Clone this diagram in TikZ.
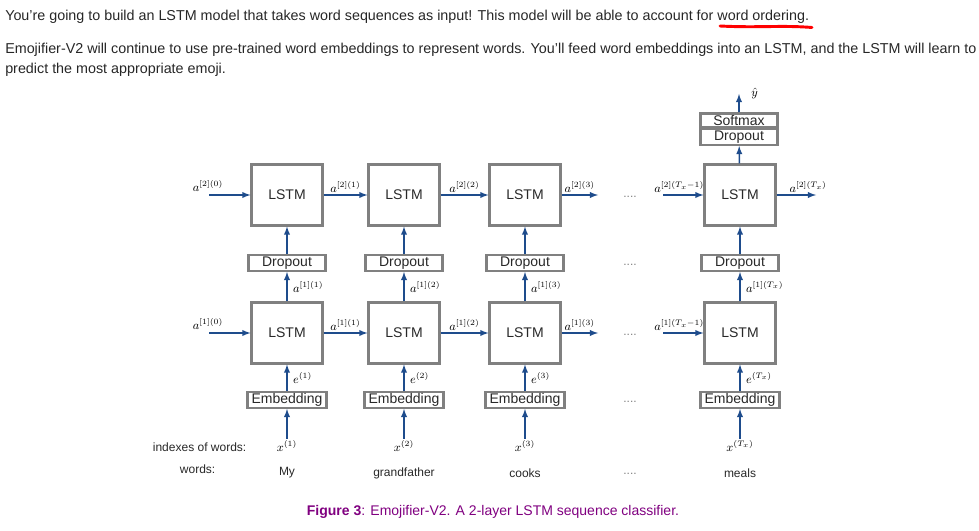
\documentclass[tikz,border=0pt]{standalone}
\usepackage{fontspec}
\setmainfont{Liberation Sans}
\usetikzlibrary{positioning,calc}
\definecolor{boxgray}{RGB}{128,128,128}
\definecolor{arrowblue}{RGB}{30,76,140}
\definecolor{capviolet}{RGB}{128,0,128}
\definecolor{textgray}{RGB}{40,40,40}
\tikzset{lstm/.style={draw=boxgray,line width=1.8pt,minimum width=53pt,minimum height=45.5pt,inner sep=0pt,text=textgray,font=\fontsize{10.5}{12}\selectfont},
         layer/.style={draw=boxgray,line width=1.8pt,minimum width=57.5pt,minimum height=11.7pt,inner sep=0pt,text=textgray,font=\fontsize{10.5}{12}\selectfont},
         vec/.style={inner sep=1pt,text=black,font=\fontsize{9}{11}\selectfont},
         word/.style={text=textgray,font=\fontsize{9}{11}\selectfont},
         dots/.style={text=gray,font=\fontsize{9}{11}\selectfont},
         para/.style={anchor=west,inner sep=0pt,text=black!85,font=\fontsize{10.75}{13}\selectfont}
}
\tikzstyle{arrow} = [arrowblue,line width=1.1pt,-latex]

\begin{document}
\begin{tikzpicture}[x=0.75pt,y=-0.75pt]
\useasboundingbox (0,0) rectangle (979,531);

% text above the figure
\node[para] (intro) at (5,17) {You're going to build an LSTM model that takes word sequences as input! This model will be able to account for word ordering.};
\node[para] (para1) at (5,50) {Emojifier-V2 will continue to use pre-trained word embeddings to represent words. You'll feed word embeddings into an LSTM, and the LSTM will learn to};
\node[para] (para2) at (5,70) {predict the most appropriate emoji.};
\draw[red,line width=2.2pt,line cap=round] (720,26) .. controls (760,28) and (780,25) .. (812,27.5);

% second LSTM layer
\node[lstm] (top1) at (287,195) {LSTM};
\node[lstm] (top2) at (404,195) {LSTM};
\node[lstm] (top3) at (525,195) {LSTM};
\node[lstm] (top4) at (740,195) {LSTM};

% dropout between the layers
\node[layer] (drop1) at (287,263) {Dropout};
\node[layer] (drop2) at (404,263) {Dropout};
\node[layer] (drop3) at (525,263) {Dropout};
\node[layer] (drop4) at (740,263) {Dropout};

% first LSTM layer
\node[lstm] (bot1) at (287,333) {LSTM};
\node[lstm] (bot2) at (404,333) {LSTM};
\node[lstm] (bot3) at (525,333) {LSTM};
\node[lstm] (bot4) at (740,333) {LSTM};

% embeddings
\node[layer,minimum width=59pt] (emb1) at (287,400) {Embedding};
\node[layer,minimum width=59pt] (emb2) at (404,400) {Embedding};
\node[layer,minimum width=59pt] (emb3) at (525,400) {Embedding};
\node[layer,minimum width=59pt] (emb4) at (740,400) {Embedding};

% inputs
\node[vec] (x1) at (287,446) {$x^{(1)}$};
\node[vec] (x2) at (404,446) {$x^{(2)}$};
\node[vec] (x3) at (525,446) {$x^{(3)}$};
\node[vec] (x4) at (740,446) {$x^{(T_x)}$};
\node[word] (w1) at (287,473) {My};
\node[word] (w2) at (404,473) {grandfather};
\node[word] (w3) at (525,473) {cooks};
\node[word] (w4) at (740,473) {meals};
\node[word,anchor=east] (idxrow) at (251,447) {indexes of words:};
\node[word,anchor=east] (wordrow) at (220,469) {words:};

% output stack
\node[layer,minimum width=58pt] (drop5) at (739,137) {Dropout};
\node[layer,minimum width=58pt,minimum height=10pt,above=0pt of drop5] (softmax) {Softmax};
\coordinate (yout) at (739,94);
\node[vec,right=8pt of yout] (yhat) {$\hat{y}$};

% dots
\node[dots] (dots1) at (630,197) {....};
\node[dots] (dots2) at (630,265) {....};
\node[dots] (dots3) at (630,335) {....};
\node[dots] (dots4) at (630,402) {....};
\node[dots] (dots5) at (630,474) {....};

% free ends of the recurrent arrows
\coordinate (in2) at (209,195);
\coordinate (in1) at (209,333);
\coordinate (out2) at (598,195);
\coordinate (out1) at (598,333);
\coordinate (back2) at (663,195);
\coordinate (back1) at (663,333);
\coordinate (last2) at (816,195);
\node[vec] (a20) at (208,186) {$a^{[2](0)}$};
\node[vec] (a10) at (208,324) {$a^{[1](0)}$};

% vertical arrows
\draw[arrow] (drop1)--(top1);
\draw[arrow] (drop2)--(top2);
\draw[arrow] (drop3)--(top3);
\draw[arrow] (drop4)--(top4);
\draw[arrow] (bot1)--node[vec,right=3pt]{$a^{[1](1)}$}(drop1);
\draw[arrow] (bot2)--node[vec,right=3pt]{$a^{[1](2)}$}(drop2);
\draw[arrow] (bot3)--node[vec,right=3pt]{$a^{[1](3)}$}(drop3);
\draw[arrow] (bot4)--node[vec,right=3pt]{$a^{[1](T_x)}$}(drop4);
\draw[arrow] (emb1)--node[vec,right=3pt]{$e^{(1)}$}(bot1);
\draw[arrow] (emb2)--node[vec,right=3pt]{$e^{(2)}$}(bot2);
\draw[arrow] (emb3)--node[vec,right=3pt]{$e^{(3)}$}(bot3);
\draw[arrow] (emb4)--node[vec,right=3pt]{$e^{(T_x)}$}(bot4);
\draw[arrow] (x1)--(emb1);
\draw[arrow] (x2)--(emb2);
\draw[arrow] (x3)--(emb3);
\draw[arrow] (x4)--(emb4);
\draw[arrow] (top4)--(drop5);
\draw[arrow] (softmax)--(yout);

% horizontal arrows
\draw[arrow] (in2)--(top1);
\draw[arrow] (top1)--node[vec,above]{$a^{[2](1)}$}(top2);
\draw[arrow] (top2)--node[vec,above]{$a^{[2](2)}$}(top3);
\draw[arrow] (top3)--node[vec,above]{$a^{[2](3)}$}(out2);
\draw[arrow] (back2)--node[vec,above,pos=0.4]{$a^{[2](T_x-1)}$}(top4);
\draw[arrow] (top4)--node[vec,above,pos=0.8]{$a^{[2](T_x)}$}(last2);
\draw[arrow] (in1)--(bot1);
\draw[arrow] (bot1)--node[vec,above]{$a^{[1](1)}$}(bot2);
\draw[arrow] (bot2)--node[vec,above]{$a^{[1](2)}$}(bot3);
\draw[arrow] (bot3)--node[vec,above]{$a^{[1](3)}$}(out1);
\draw[arrow] (back1)--node[vec,above,pos=0.4]{$a^{[1](T_x-1)}$}(bot4);

% caption
\node[text=capviolet,font=\fontsize{10.5}{12}\selectfont] (caption) at (493,512) {\textbf{Figure 3}: Emojifier-V2. A 2-layer LSTM sequence classifier.};

\end{tikzpicture}
\end{document}
